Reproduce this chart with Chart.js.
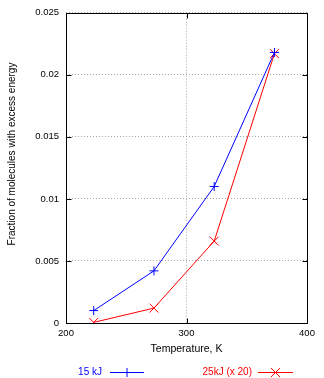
<!DOCTYPE html>
<html>
<head>
<meta charset="utf-8">
<script src="https://cdn.jsdelivr.net/npm/chart.js@4/dist/chart.umd.min.js"></script>
<style>
html,body{margin:0;padding:0;background:#fff;}
#wrap{width:324px;height:378px;position:relative;}
</style>
</head>
<body>
<div id="wrap"><canvas id="c" width="324" height="378"></canvas></div>
<script>
// Data
const temperatures = [223, 273, 323, 373];
const series15kJ = [0.0010, 0.0042, 0.0110, 0.0218];
const series25kJx20 = [0.00005, 0.0012, 0.0066, 0.0217];
const seriesLabels = ['15 kJ', '25kJ (x 20)'];
const xTickLabels = ['200', '300', '400'];
const yTickLabels = ['0', '0.005', '0.01', '0.015', '0.02', '0.025'];
const xTitle = 'Temperature, K';
const yTitle = 'Fraction of molecules with excess energy';

const FONT = 'Arial, "Liberation Sans", Helvetica, sans-serif';

const gnuFrame = {
  id: 'gnuFrame',
  afterDatasetsDraw(chart) {
    const {ctx, chartArea: a, scales} = chart;
    ctx.save();
    ctx.strokeStyle = '#000';
    ctx.lineWidth = 1;
    ctx.setLineDash([]);
    const L = Math.round(a.left) + 0.5, R = Math.round(a.right) + 0.5;
    const T = Math.round(a.top) + 0.5, B = Math.round(a.bottom) + 0.5;
    ctx.beginPath();
    ctx.rect(L, T, R - L, B - T);
    const tl = 5;
    scales.y.ticks.forEach(t => {
      const y = Math.round(scales.y.getPixelForValue(t.value)) + 0.5;
      ctx.moveTo(L, y); ctx.lineTo(L + tl, y);
      ctx.moveTo(R, y); ctx.lineTo(R - tl, y);
    });
    scales.x.ticks.forEach(t => {
      const x = Math.round(scales.x.getPixelForValue(t.value)) + 0.5;
      ctx.moveTo(x, B); ctx.lineTo(x, B - tl);
      ctx.moveTo(x, T); ctx.lineTo(x, T + tl);
    });
    ctx.stroke();
    // y axis title (gnuplot places it slightly above the axis centre)
    ctx.font = '10px ' + FONT;
    ctx.fillStyle = '#000';
    ctx.textAlign = 'center';
    ctx.textBaseline = 'middle';
    ctx.translate(12, 154);
    ctx.rotate(-Math.PI / 2);
    ctx.fillText(yTitle, 0, 0);
    ctx.restore();
  }
};

const gnuLegend = {
  id: 'gnuLegend',
  afterDraw(chart) {
    const {ctx} = chart;
    const y = 372;
    const entries = [{textRight: 102, lineL: 110, lineR: 144}, {textRight: 252, lineL: 258, lineR: 293}];
    chart.data.datasets.forEach((ds, i) => {
      const e = entries[i];
      ctx.save();
      ctx.font = '10px ' + FONT;
      ctx.fillStyle = ds.borderColor;
      ctx.textAlign = 'right';
      ctx.textBaseline = 'middle';
      ctx.fillText(ds.label, e.textRight, y);
      ctx.strokeStyle = ds.borderColor;
      ctx.lineWidth = 1;
      ctx.beginPath();
      ctx.moveTo(e.lineL, y + 0.5); ctx.lineTo(e.lineR, y + 0.5);
      ctx.stroke();
      Chart.helpers.drawPoint(ctx, {pointStyle: ds.pointStyle, radius: ds.pointRadius, borderWidth: 1}, (e.lineL + e.lineR) / 2, y + 0.5);
      ctx.restore();
    });
  }
};

new Chart(document.getElementById('c'), {
  type: 'line',
  data: {
    datasets: [
      {
        label: seriesLabels[0],
        data: temperatures.map((t, i) => ({x: t, y: series15kJ[i]})),
        borderColor: '#0000ff',
        backgroundColor: '#0000ff',
        borderWidth: 1,
        pointStyle: 'cross',
        pointRadius: 4.5,
        pointBorderWidth: 1,
        tension: 0,
        fill: false
      },
      {
        label: seriesLabels[1],
        data: temperatures.map((t, i) => ({x: t, y: series25kJx20[i]})),
        borderColor: '#ff0000',
        backgroundColor: '#ff0000',
        borderWidth: 1,
        pointStyle: 'crossRot',
        pointRadius: 6.3,
        pointBorderWidth: 1,
        tension: 0,
        fill: false
      }
    ]
  },
  options: {
    responsive: false,
    animation: false,
    devicePixelRatio: 1,
    layout: {padding: {left: 0, right: 17, top: 12, bottom: 23}},
    plugins: {legend: {display: false}, tooltip: {enabled: false}},
    scales: {
      x: {
        type: 'linear',
        min: 200, max: 400,
        afterFit(s) { s.height = 32; },
        ticks: {
          stepSize: 100,
          color: '#000',
          padding: 5,
          font: {family: FONT, size: 9.5},
          maxRotation: 0,
          callback: (v, i) => xTickLabels[i]
        },
        grid: {color: '#a8a8a8', lineWidth: 1, drawTicks: false},
        border: {display: false, dash: [1, 2]},
        title: {display: true, text: xTitle, color: '#000', font: {family: FONT, size: 10.5}, padding: {top: 0, bottom: 0}}
      },
      y: {
        min: 0, max: 0.025,
        afterFit(s) { s.width = 66; },
        ticks: {
          stepSize: 0.005,
          color: '#000',
          padding: 7,
          font: {family: FONT, size: 9.5},
          callback: (v, i) => yTickLabels[i]
        },
        grid: {color: '#a8a8a8', lineWidth: 1, drawTicks: false},
        border: {display: false, dash: [1, 2]},
        title: {display: false}
      }
    }
  },
  plugins: [gnuFrame, gnuLegend]
});
</script>
</body>
</html>
